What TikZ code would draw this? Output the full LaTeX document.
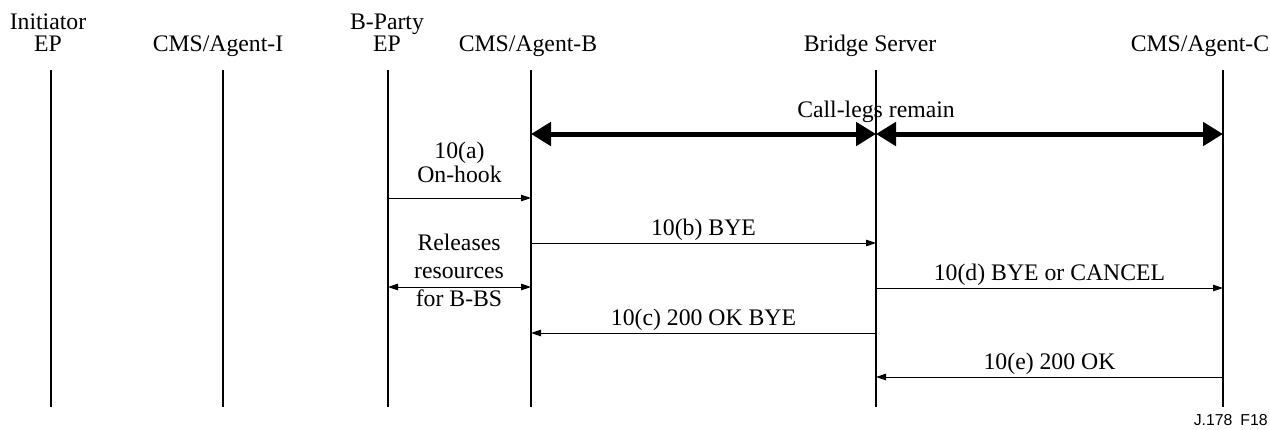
\documentclass[tikz,border=0pt]{standalone}
\usepackage{fontspec}
\setmainfont{Liberation Serif}
\newfontfamily\figsans{Liberation Sans}
\usetikzlibrary{positioning,arrows.meta}

\begin{document}
\begin{tikzpicture}[x=0.2mm,y=-0.2mm,
    font=\fontsize{13.5}{12.5}\selectfont,
    head/.style={anchor=base,inner sep=0pt,align=center},
    life/.style={line width=0.6pt},
    msg/.style={-{Triangle[length=2mm,width=1.3mm]},line width=0.5pt},
    twoway/.style={{Triangle[length=2mm,width=1.3mm]}-{Triangle[length=2mm,width=1.3mm]},line width=0.5pt},
    leg/.style={{Triangle[length=4mm,width=4.6mm]}-{Triangle[length=4mm,width=4.6mm]},line width=1mm},
    lbl/.style={above,inner sep=1pt}]
        \useasboundingbox (0,0) rectangle (1270,429);
        % entities
        \node[head] (hiep) at (48,51) {Initiator\\EP};
        \node[head] (hagi) at (218,51) {CMS/Agent-I};
        \node[head] (hbep) at (387,51) {B-Party\\EP};
        \node[head] (hagb) at (528,51) {CMS/Agent-B};
        \node[head] (hbs) at (870,51) {Bridge Server};
        \node[head] (hagc) at (1200,51) {CMS/Agent-C};
        \foreach \n/\x in {iep/51,agi/223,bep/388,agb/531,bs/876,agc/1223} {
            \coordinate (\n-top) at (\x,70);
            \coordinate (\n-bot) at (\x,407);
            \draw[life] (\n-top) -- (\n-bot);
        }
        % rows
        \coordinate (r0) at (0,134);
        \coordinate (ra) at (0,198);
        \coordinate (rb) at (0,243);
        \coordinate (rr) at (0,287);
        \coordinate (rd) at (0,288);
        \coordinate (rc) at (0,333);
        \coordinate (re) at (0,377);
        \node[anchor=base,inner sep=0pt] (legs) at (876,117) {Call-legs remain};
        \draw[leg] (agb-top |- r0) -- (bs-top |- r0);
        \draw[leg] (bs-top |- r0) -- (agc-top |- r0);
        \draw[msg] (bep-top |- ra) -- node[above=5pt,align=center,font=\fontsize{13.5}{14}\selectfont] (la) {10(a)\\On-hook} (agb-top |- ra);
        \draw[msg] (agb-top |- rb) -- node[lbl] (lb) {10(b) BYE} (bs-top |- rb);
        \node[align=center,inner sep=0pt,font=\fontsize{13.5}{16}\selectfont] (rel) at (459,270) {Releases\\resources\\for B-BS};
        \draw[twoway] (bep-top |- rr) -- (agb-top |- rr);
        \draw[msg] (bs-top |- rd) -- node[lbl] (ld) {10(d) BYE or CANCEL} (agc-top |- rd);
        \draw[msg] (bs-top |- rc) -- node[lbl] (lc) {10(c) 200 OK BYE} (agb-top |- rc);
        \draw[msg] (agc-top |- re) -- node[lbl] (le) {10(e) 200 OK} (bs-top |- re);
        \node[anchor=base east,inner sep=0pt,font=\figsans\fontsize{9}{10}\selectfont] (figid) at (1268,425) {J.178\enspace F18};
    \end{tikzpicture}
\end{document}
